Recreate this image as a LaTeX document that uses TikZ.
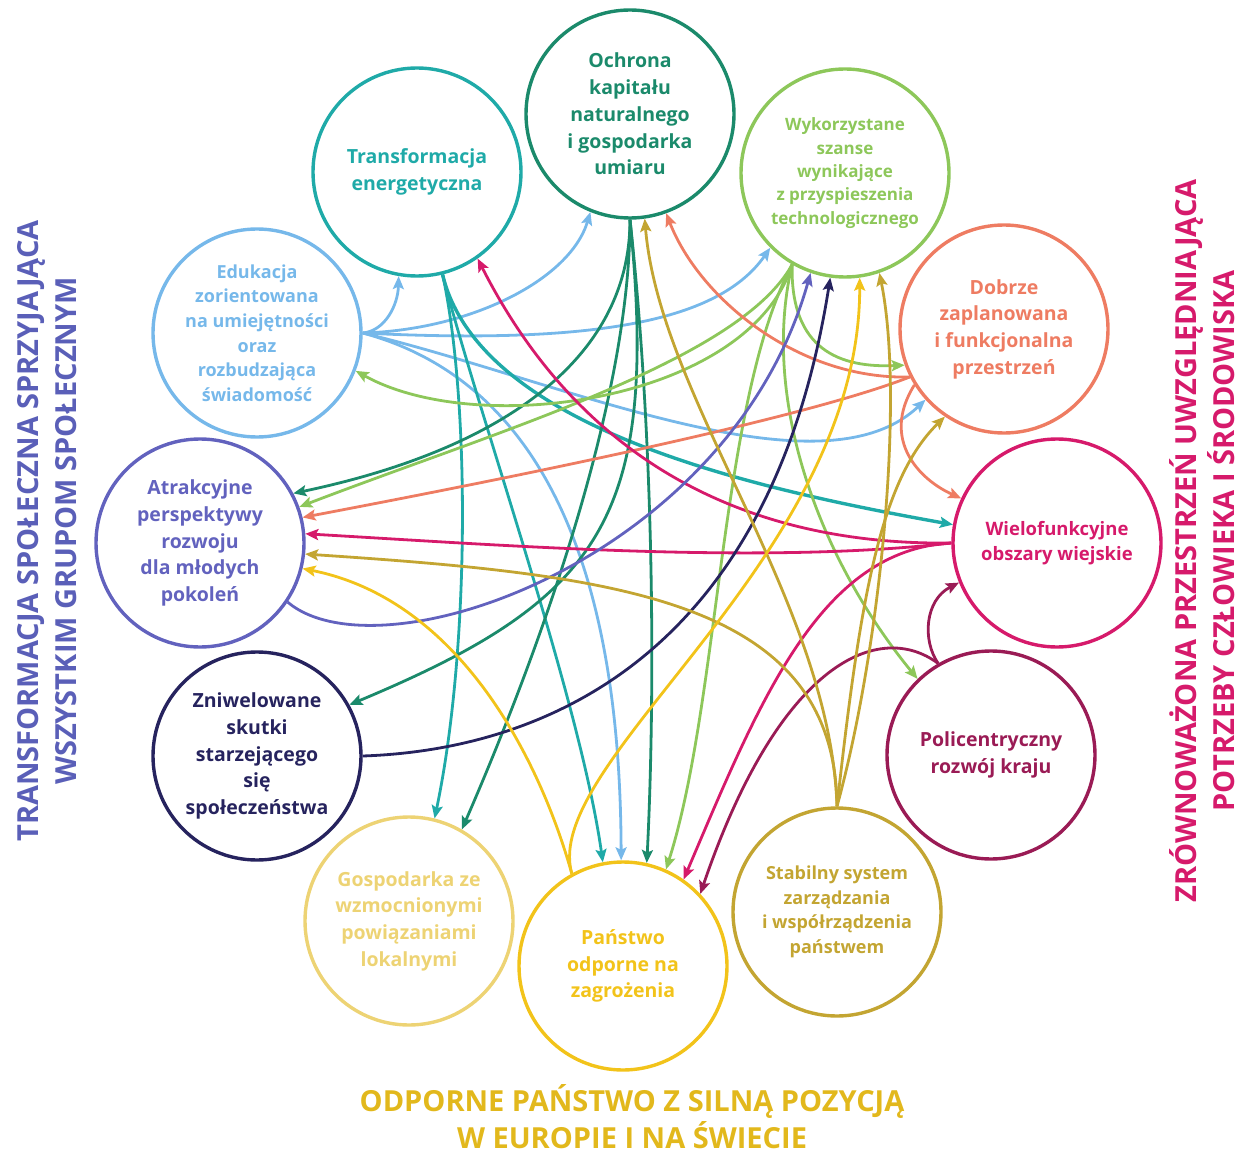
\documentclass[tikz,border=0pt]{standalone}
\usepackage{fontspec}
\setmainfont{Open Sans}
\usetikzlibrary{arrows.meta}
\definecolor{cOch}{HTML}{1B8A6B}
\definecolor{cTra}{HTML}{1FAAA8}
\definecolor{cWyk}{HTML}{8DC75A}
\definecolor{cEdu}{HTML}{76B8EA}
\definecolor{cDob}{HTML}{EE7C62}
\definecolor{cAtr}{HTML}{6262BE}
\definecolor{cWie}{HTML}{D61A6B}
\definecolor{cZni}{HTML}{26235E}
\definecolor{cPol}{HTML}{9A1B55}
\definecolor{cGos}{HTML}{EDD374}
\definecolor{cPan}{HTML}{F2C31A}
\definecolor{cSta}{HTML}{C3A532}
\definecolor{cLeft}{HTML}{5A5FB8}
\definecolor{cBot}{HTML}{E2B81C}
\begin{document}
\begin{tikzpicture}[x=1pt,y=-1pt,
  goal/.style={circle, draw=#1, line width=3.4pt, minimum size=208pt, inner sep=0pt,
    text=#1, font=\bfseries\fontsize{19.5}{26.7}\selectfont, align=center},
  small/.style={font=\bfseries\fontsize{17}{23.3}\selectfont},
  medium/.style={font=\bfseries\fontsize{18}{24.6}\selectfont},
  link/.style={draw=#1, line width=2.8pt, -{Stealth[length=13pt,width=11pt,inset=2.5pt]}},
  title/.style={font=\bfseries\fontsize{29}{38.5}\selectfont, align=center, inner sep=0pt},
]
\useasboundingbox (0,0) rectangle (1245,1158);

% goals
\node[goal=cOch] (och) at (630,114) {Ochrona\\kapitału\\naturalnego\\i gospodarka\\umiaru};
\node[goal=cTra] (tra) at (417,172) {Transformacja\\energetyczna};
\node[goal=cWyk, small] (wyk) at (845,173) {Wykorzystane\\szanse\\wynikające\\z przyspieszenia\\technologicznego};
\node[goal=cEdu, medium] (edu) at (257,333) {Edukacja\\zorientowana\\na umiejętności\\oraz\\rozbudzająca\\świadomość};
\node[goal=cDob] (dob) at (1004,329) {Dobrze\\zaplanowana\\i funkcjonalna\\przestrzeń};
\node[goal=cAtr] (atr) at (200,543) {Atrakcyjne\\perspektywy\\rozwoju\\dla młodych\\pokoleń};
\node[goal=cWie, font=\bfseries\fontsize{18.5}{24.5}\selectfont] (wie) at (1057,543) {Wielofunkcyjne\\obszary wiejskie};
\node[goal=cZni] (zni) at (257,756) {Zniwelowane\\skutki\\starzejącego\\się\\społeczeństwa};
\node[goal=cPol] (pol) at (991,755) {Policentryczny\\rozwój kraju};
\node[goal=cGos] (gos) at (409,921) {Gospodarka ze\\wzmocnionymi\\powiązaniami\\lokalnymi};
\node[goal=cPan] (pan) at (623,966) {Państwo\\odporne na\\zagrożenia};
\node[goal=cSta, medium] (sta) at (837,912) {Stabilny system\\zarządzania\\i współrządzenia\\państwem};

% titles
\node[title, text=cLeft, rotate=90] (tleft) at (47,531) {TRANSFORMACJA SPOŁECZNA SPRZYJAJĄCA\\WSZYSTKIM GRUPOM SPOŁECZNYM};
\node[title, text=cWie, rotate=90] (tright) at (1202,541) {ZRÓWNOWAŻONA PRZESTRZEŃ UWZGLĘDNIAJĄCA\\POTRZEBY CZŁOWIEKA I ŚRODOWISKA};
\node[title, text=cBot, font=\bfseries\fontsize{29}{37}\selectfont] (tbottom) at (632,1117) {ODPORNE PAŃSTWO Z SILNĄ POZYCJĄ\\W EUROPIE I NA ŚWIECIE};

% Edukacja
\draw[link=cEdu] (edu.east) .. controls (385,331) and (398,305) .. (tra.-100);
\draw[link=cEdu] (edu.east) .. controls (470,330) and (570,280) .. (och.-112);
\draw[link=cEdu] (edu.east) .. controls (600,345) and (720,320) .. (wyk.-135);
\draw[link=cEdu] (edu.east) .. controls (560,380) and (820,500) .. (dob.222);
\draw[link=cEdu] (edu.east) .. controls (500,370) and (620,500) .. (pan.91);

% Transformacja
\draw[link=cTra] (tra.-76) .. controls (470,400) and (470,650) .. (gos.76);
\draw[link=cTra] (tra.-76) .. controls (480,420) and (580,700) .. (pan.101);
\draw[link=cTra, line width=3.4pt] (tra.-76) .. controls (480,430) and (760,490) .. (wie.170);

% Ochrona
\draw[link=cOch] (och.south) .. controls (630,360) and (500,450) .. (atr.28);
\draw[link=cOch] (och.south) .. controls (660,520) and (600,600) .. (zni.29);
\draw[link=cOch] (och.south) .. controls (630,400) and (540,650) .. (gos.60);
\draw[link=cOch] (och.south) .. controls (655,450) and (655,700) .. (pan.77);

% Wykorzystane
\draw[link=cWyk] (wyk.-120) .. controls (750,400) and (480,440) .. (edu.-21);
\draw[link=cWyk] (wyk.-120) .. controls (740,360) and (500,430) .. (atr.20);
\draw[link=cWyk] (wyk.-120) .. controls (790,350) and (840,368) .. (dob.200);
\draw[link=cWyk] (wyk.-120) .. controls (760,400) and (820,560) .. (pol.134);
\draw[link=cWyk] (wyk.-120) .. controls (720,400) and (720,700) .. (pan.66);

% Dobrze
\draw[link=cDob] (dob.207) .. controls (800,380) and (700,300) .. (och.-70);
\draw[link=cDob] (dob.207) .. controls (800,420) and (500,480) .. (atr.14);
\draw[link=cDob] (dob.212) .. controls (880,440) and (920,480) .. (wie.155);

% Wielofunkcyjne
\draw[link=cWie] (wie.west) .. controls (800,545) and (600,500) .. (tra.-55);
\draw[link=cWie] (wie.west) .. controls (760,565) and (500,545) .. (atr.5);
\draw[link=cWie] (wie.west) .. controls (820,550) and (760,700) .. (pan.55);

% Policentryczny
\draw[link=cPol] (pol.120) .. controls (922,640) and (925,600) .. (wie.202);
\draw[link=cPol] (pol.120) .. controls (880,620) and (780,660) .. (pan.43);

% Zniwelowane
\draw[link=cZni] (zni.east) .. controls (540,750) and (770,660) .. (wyk.-98);

% Atrakcyjne
\draw[link=cAtr] (atr.-34) .. controls (380,680) and (730,560) .. (wyk.-109);

% Stabilny
\draw[link=cSta] (sta.north) .. controls (830,600) and (660,400) .. (och.-82);
\draw[link=cSta] (sta.north) .. controls (880,650) and (905,400) .. (wyk.-71);
\draw[link=cSta] (sta.north) .. controls (860,600) and (880,480) .. (dob.-124);
\draw[link=cSta] (sta.north) .. controls (835,600) and (620,575) .. (atr.-6);

% Panstwo
\draw[link=cPan] (pan.119) .. controls (540,760) and (460,600) .. (atr.-14);
\draw[link=cPan] (pan.119) .. controls (540,760) and (860,560) .. (wyk.-82);
\end{tikzpicture}
\end{document}
